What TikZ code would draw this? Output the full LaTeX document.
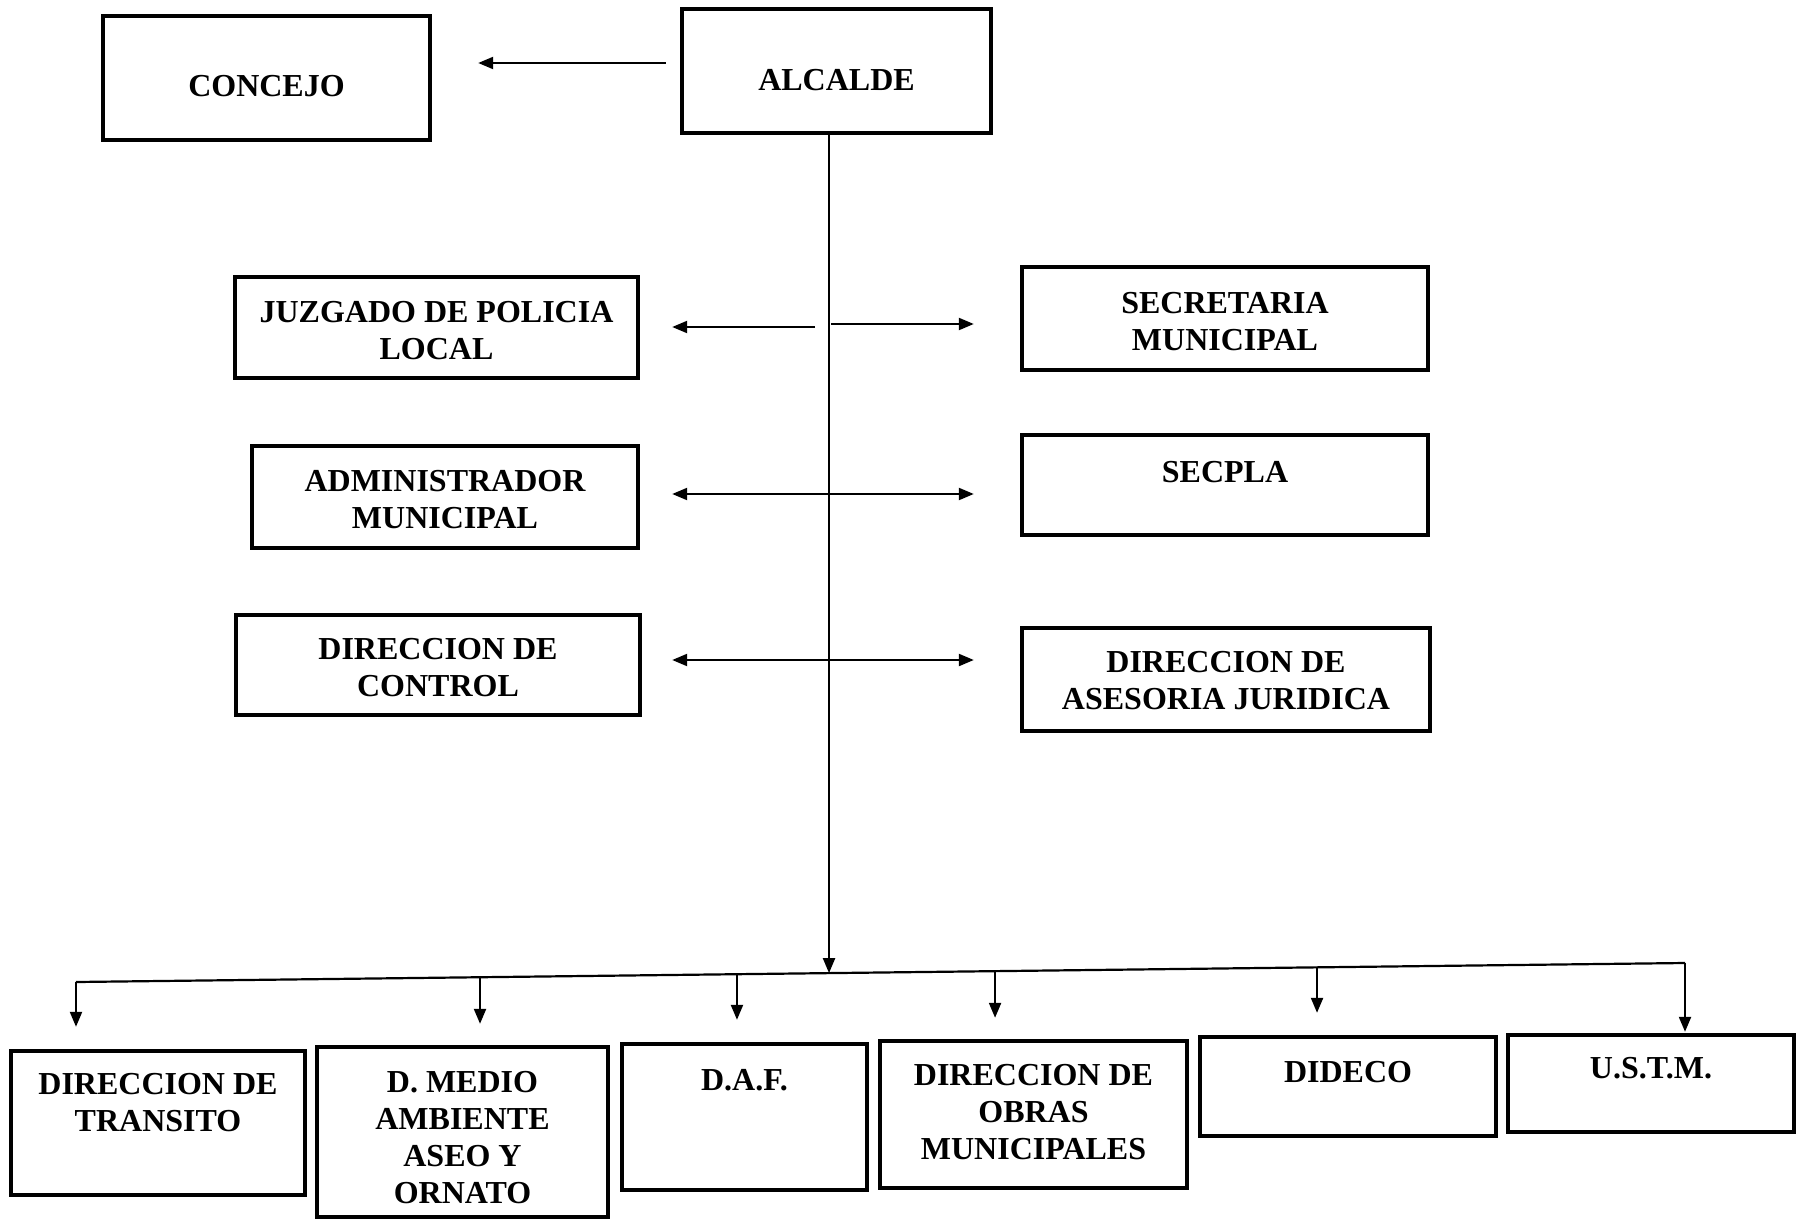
\documentclass[tikz,border=0pt]{standalone}
\usepackage{fontspec}
\setmainfont{Liberation Serif}
\usetikzlibrary{arrows.meta,fit,calc}
\begin{document}
\begin{tikzpicture}[x=0.5pt,y=-0.5pt,
  orgbox/.style={draw=black, line width=2.2pt, inner sep=0pt, rectangle},
  lbl/.style={anchor=north, align=center, inner sep=0pt,
              font=\fontsize{16}{18.5}\selectfont\bfseries},
  link/.style={line width=1.1pt},
  tip/.style={-{Triangle[length=7.5pt,width=6pt]}},
  twotip/.style={{Triangle[length=7.5pt,width=6pt]}-{Triangle[length=7.5pt,width=6pt]}},
]
\useasboundingbox (0,0) rectangle (1797,1225);

% top level
\node[orgbox, fit={(103,16) (430,140)}] (concejo) {};
\node[orgbox, fit={(682,9) (991,133)}] (alcalde) {};
\node[lbl] (concejoT) at (concejo |- 0,75) {CONCEJO};
\node[lbl] (alcaldeT) at (alcalde |- 0,69) {ALCALDE};

% staff units
\node[orgbox, fit={(235,277) (638,378)}] (juzgado) {};
\node[orgbox, fit={(1022,267) (1428,370)}] (secretaria) {};
\node[orgbox, fit={(252,446) (638,548)}] (admin) {};
\node[orgbox, fit={(1022,435) (1428,535)}] (secpla) {};
\node[orgbox, fit={(236,615) (640,715)}] (control) {};
\node[orgbox, fit={(1022,628) (1430,731)}] (asesoria) {};

\node[lbl] (juzgadoT) at (juzgado |- 0,301) {JUZGADO DE POLICIA\\LOCAL};
\node[lbl] (secretariaT) at (secretaria |- 0,292) {SECRETARIA\\MUNICIPAL};
\node[lbl] (adminT) at (admin |- 0,470) {ADMINISTRADOR\\MUNICIPAL};
\node[lbl] (secplaT) at (secpla |- 0,461) {SECPLA};
\node[lbl] (controlT) at (control |- 0,638) {DIRECCION DE\\CONTROL};
\node[lbl] (asesoriaT) at (asesoria |- 0,651) {DIRECCION DE\\ASESORIA JURIDICA};

% line departments
\node[orgbox, fit={(11,1051) (305,1195)}] (transito) {};
\node[orgbox, fit={(317,1047) (608,1217)}] (medio) {};
\node[orgbox, fit={(622,1044) (867,1190)}] (daf) {};
\node[orgbox, fit={(880,1041) (1187,1188)}] (obras) {};
\node[orgbox, fit={(1200,1037) (1496,1136)}] (dideco) {};
\node[orgbox, fit={(1508,1035) (1794,1132)}] (ustm) {};

\node[lbl] (transitoT) at (transito |- 0,1073) {DIRECCION DE\\TRANSITO};
\node[lbl] (medioT) at (medio |- 0,1071) {D. MEDIO\\AMBIENTE\\ASEO Y\\ORNATO};
\node[lbl] (dafT) at (daf |- 0,1069) {D.A.F.};
\node[lbl] (obrasT) at (obras |- 0,1064) {DIRECCION DE\\OBRAS\\MUNICIPALES};
\node[lbl] (didecoT) at (dideco |- 0,1061) {DIDECO};
\node[lbl] (ustmT) at (ustm |- 0,1057) {U.S.T.M.};

% distribution bus
\coordinate (busL) at (76,982);
\coordinate (busR) at (1685,963);
\coordinate (bMedio) at ($(busL)!0.2511!(busR)$);
\coordinate (bDaf) at ($(busL)!0.4108!(busR)$);
\coordinate (bTrunk) at ($(busL)!0.4680!(busR)$);
\coordinate (bObras) at ($(busL)!0.5712!(busR)$);
\coordinate (bDideco) at ($(busL)!0.7713!(busR)$);

% connectors
\draw[link,tip,shorten <=7pt,shorten >=23pt] (alcalde.west |- 0,63) -- (concejo.east |- 0,63);
\draw[link,tip] (alcalde.south -| bTrunk) -- (bTrunk);

\draw[link,tip,shorten <=7pt,shorten >=16pt] (bTrunk |- 0,327) -- (juzgado.east |- 0,327);
\draw[link,tip,shorten <=1pt,shorten >=23pt] (bTrunk |- 0,324) -- (secretaria.west |- 0,324);
\draw[link,twotip,shorten <=16pt,shorten >=23pt] (admin.east |- 0,494) -- (secpla.west |- 0,494);
\draw[link,twotip,shorten <=15pt,shorten >=23pt] (control.east |- 0,660) -- (asesoria.west |- 0,660);

\draw[link] (busL) -- (busR);
\draw[link,tip,shorten >=11pt] (busL) -- (busL |- transito.north);
\draw[link,tip,shorten >=10.5pt] (bMedio) -- (bMedio |- medio.north);
\draw[link,tip,shorten >=11pt] (bDaf) -- (bDaf |- daf.north);
\draw[link,tip,shorten >=10.5pt] (bObras) -- (bObras |- obras.north);
\draw[link,tip,shorten >=11pt] (bDideco) -- (bDideco |- dideco.north);
\draw[link,tip,shorten >=0.5pt] (busR) -- (busR |- ustm.north);
\end{tikzpicture}
\end{document}
